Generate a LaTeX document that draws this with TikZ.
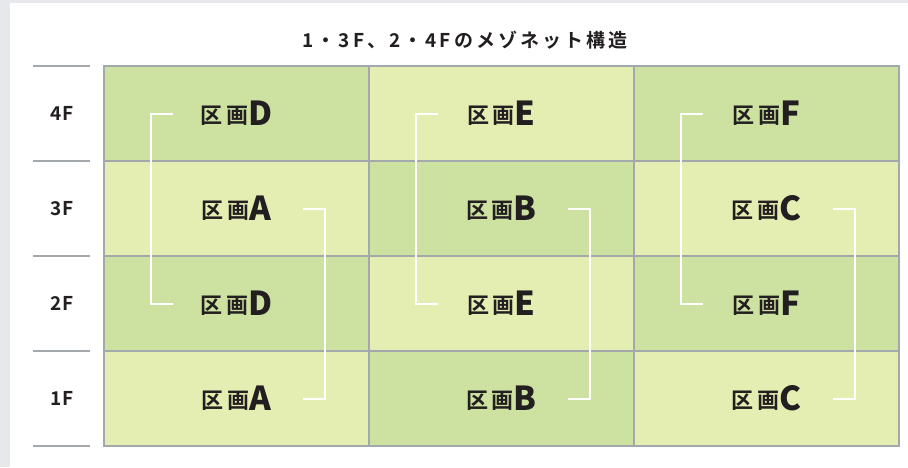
\documentclass[tikz,border=0pt]{standalone}
\usepackage{fontspec}
\setmainfont{Noto Sans CJK JP}[BoldFont={Noto Sans CJK JP Bold}]
\newfontfamily\spaced{Noto Sans CJK JP Bold}[LetterSpace=8]
\newfontfamily\wide{Noto Sans CJK JP Bold}[LetterSpace=16]
\usetikzlibrary{positioning,calc}
\definecolor{bggray}{HTML}{E6E8EB}
\definecolor{gridgray}{HTML}{A3A8AC}
\definecolor{darkgreen}{HTML}{CDE2A0}
\definecolor{lightgreen}{HTML}{E5EEB2}
\definecolor{ink}{HTML}{231F20}
\tikzset{
    cell/.style={draw=gridgray, line width=2pt, minimum width=265pt, minimum height=95pt, inner sep=0pt, outer sep=0pt, text=ink, font=\wide\fontsize{22}{22}\selectfont},
    darkcell/.style={cell, fill=darkgreen},
    lightcell/.style={cell, fill=lightgreen},
    floor/.style={text=ink, font=\spaced\fontsize{19}{19}\selectfont},
    rule/.style={draw=gridgray, line width=2pt},
    link/.style={draw=white, line width=2pt}
}
\newcommand{\kukaku}[1]{区画\raisebox{-2pt}{\bfseries\fontsize{33}{33}\selectfont #1}}

\begin{document}
\begin{tikzpicture}[x=1pt, y=-1pt, node distance=0pt]
    \useasboundingbox (0,0) rectangle (908,467);
    \fill[bggray] (0,0) rectangle (908,467);
    \fill[white] (10,3) rectangle (908,467);

    \node[text=ink, font=\wide\fontsize{19}{19}\selectfont] (title) at (465,40) {1・3F、2・4Fのメゾネット構造};

    % 4F
    \node[darkcell, anchor=north west] (d4) at (104,66) {\kukaku{D}};
    \node[lightcell, right=of d4] (e4) {\kukaku{E}};
    \node[darkcell, right=of e4] (f4) {\kukaku{F}};
    % 3F
    \node[lightcell, below=of d4] (a3) {\kukaku{A}};
    \node[darkcell, right=of a3] (b3) {\kukaku{B}};
    \node[lightcell, right=of b3] (c3) {\kukaku{C}};
    % 2F
    \node[darkcell, below=of a3] (d2) {\kukaku{D}};
    \node[lightcell, right=of d2] (e2) {\kukaku{E}};
    \node[darkcell, right=of e2] (f2) {\kukaku{F}};
    % 1F
    \node[lightcell, below=of d2] (a1) {\kukaku{A}};
    \node[darkcell, right=of a1] (b1) {\kukaku{B}};
    \node[lightcell, right=of b1] (c1) {\kukaku{C}};

    % floor labels
    \foreach \f/\c in {4/d4,3/a3,2/d2,1/a1}
        \node[floor] (fl\f) at ($(\c.center)+(-174.5,0)$) {\f F};
    \foreach \c in {d4,a3,d2,a1}
        \draw[rule] ($(\c.north west)+(-71,0)$) -- ++(57,0);
    \draw[rule] ($(a1.south west)+(-71,0)$) -- ++(57,0);

    % maisonette links
    \foreach \up/\down in {d4/d2,e4/e2,f4/f2}
        \draw[link] ($(\up.center)+(-64,0)$) -- ++(-22,0) |- ($(\down.center)+(-64,0)$);
    \foreach \up/\down in {a3/a1,b3/b1,c3/c1}
        \draw[link] ($(\up.center)+(66,0)$) -- ++(22,0) |- ($(\down.center)+(66,0)$);
\end{tikzpicture}
\end{document}
